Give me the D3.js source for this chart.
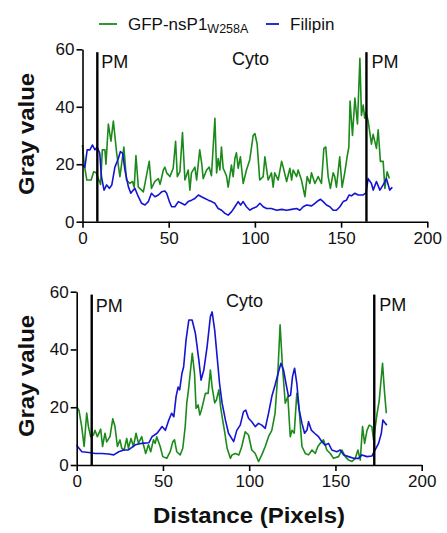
<!DOCTYPE html>
<html><head><meta charset="utf-8">
<script src="https://cdn.jsdelivr.net/npm/d3@7/dist/d3.min.js"></script>
<style>
html,body{margin:0;padding:0;background:#fff;}
svg{display:block;font-family:"Liberation Sans",Arial,sans-serif;}
</style></head>
<body><svg id="c" width="447" height="533"></svg>
<script>
// ---------- data ----------
const xTicks = [0, 50, 100, 150, 200];
const yTicks = [0, 20, 40, 60];
const seriesNames = ["GFP-nsP1", "Filipin"];
const seriesSub = ["W258A", ""];
const regionLabels = ["PM", "Cyto", "PM"];

// top panel: GFP-nsP1 W258A (green)
const topGreenX = [0,1,2.5,5,6.5,8,9.2,10.5,11.5,13,13.6,15,16.5,17.9,19.8,21.7,24,25.5,27.5,29,30,31,32.4,34.3,35.3,38.7,40,42,44,45,46.9,47.8,48.8,50.7,52.6,54,55,56.5,58,59.4,61.3,62.3,63.2,65.2,66.2,68,69.2,70,72,73.5,74.8,76.8,77.8,78.7,79.7,80.6,81.6,83.5,84.5,86.4,87.4,88.4,89.3,90.3,91.6,93.2,95.1,97,99,100,101.3,102.8,104.8,105.8,107.7,109.6,110.6,111.5,113.5,115.5,116.4,118.4,120.3,121.3,122.2,124.2,125.1,127,129,130.3,131.9,132.8,134.8,136.7,138.6,140,141.1,142.5,143.8,145.4,146.3,147.3,149.2,150.6,152.1,153.5,154.5,155.2,156.6,158,159.5,160.9,161.8,162.8,163.7,164.5,165.7,167.6,168.6,170.5,171.5,172.8,174.4,175.4,176.7,178];
const topGreenY = [26.7,20,14.5,14.5,17.4,17,15,13,25,25,20,34,28,35,24,15.7,26,14.5,13.3,14,12,23,12,11,10.4,21,11.6,14,15,13,18,19,17,15.7,18.6,28,15.7,17.4,31,14.5,18,11,17,19,14.5,25,20,15,18,19,16,36,17,22,18,26,18.6,16,12,19.7,15.7,22,24,18.6,22.6,13.3,18,21.5,30,30.7,27,14.5,15.7,22.6,14.5,17,12,17,14.5,21,19,14,18.6,14.5,18,15.7,18,14.5,8.7,15.7,13.3,17,13.3,15.7,13.3,25.5,26,15.7,11.6,17,15.7,12,22.6,12,17,22.6,26,42,30,43,34,56.9,37,40.6,36,38,35,27,30.4,25.5,32,21,21,11.6,17.4,15];
// top panel: Filipin (blue)
const topBlueX = [0,1.4,2.7,4.3,5.8,7.2,8.5,10,11,12.5,14,15.6,17,18.8,20.8,22,23.3,24.6,26.6,28,29.5,30.4,32.4,34.3,36.2,38.2,40,42,44,45.9,47.8,48.8,50.4,51.7,53.6,55.6,57.5,59.4,61.3,63.3,65.2,67.2,69,71,73,74.9,76.8,78.7,80.7,82.6,84.5,86.5,88.4,90.3,91.7,93.2,95.1,97.1,98.6,101,102.9,104.8,106.8,109.6,112.6,115.5,118.4,121.3,124.2,126.1,128,130,132.9,134.8,136.7,138.1,139.6,141.5,143.5,145.4,147.3,149.3,151.2,153.1,154.7,156,158,159.9,162.8,164.4,165.7,167.6,168.6,170.5,172.5,174.4,176.3,178.2,179.7];
const topBlueY = [19.7,19,25,25,26.7,25,26,23.8,15.7,11,12.8,11.6,12.8,19,22,24.4,23.8,18,12.2,9.9,11,11.6,8.7,6.4,5.8,7,9.9,8.7,9.3,10.4,10.7,9.9,7,5.2,5.2,7,6.4,5.8,7,7.5,8.1,9.3,8.7,8.1,7.5,7,6.4,4.6,4,2.9,2.3,3.5,5.2,7,5.8,7,5.2,4,4.6,5.2,6.4,5.2,4.6,4.6,4,4.3,4,4.3,4.6,4,5.2,5.8,5.5,6.4,7.3,7.8,7,5.8,5.2,4,4,5.2,7,7.5,9.3,9,9.9,9.3,9.3,10,15,13.3,11,14,11,12.8,15,11,12];

// bottom panel: GFP-nsP1 W258A (green)
const botGreenX = [0,1.3,2.9,4.3,5.8,6.8,8.1,9.7,10.6,12,13.9,15,16.4,17.4,19.3,20.9,22.2,23.6,25.1,26.1,27.5,29,30,31.5,32.9,34.4,35.8,37.7,38.7,40,41.6,42.9,44.5,45.5,46.4,48.4,49.9,52.2,54.2,55.7,56.7,58,60,61.5,62.9,63.8,64.8,67,68.3,69.2,70.4,71.4,72.3,73.7,74.6,76.2,77.5,78.5,80,81,82.4,83.4,84.3,85.9,87.2,89.1,90,92,94,95.7,97.7,99.6,101.5,103.5,105.4,107.3,109.3,111.2,113.1,115,116.6,117.9,119.3,120.9,122.4,123.8,124.8,126.1,127.6,129,130.6,132.5,134.4,136.4,138.3,139.8,141.2,143.1,145,147,148.9,151.8,153.7,155.7,157.6,159.6,161.5,163,164.4,165.7,166.9,168.3,169.6,171.1,172.1,174,175.4,177.3,178.5,179.5];
const botGreenY = [20.2,19,13.3,6.4,18,13.3,9.8,10.4,12,9.8,12.4,6.4,11,8,9.8,16,13.3,6.4,8.7,5.8,5.2,9.2,5.8,9.2,6.4,11,7.5,9.8,7,4,7,4.6,8.7,7.5,9.8,6.4,2.9,2.3,4.6,8,8.7,4.6,3.5,5.8,13.3,21.4,26,38.7,31.7,19.6,20.8,17.3,19,22.5,24.8,24.8,32.9,27,21.5,22.5,26,20.2,16.7,11,5.8,2.3,3.5,4,3.5,6.4,11.5,10.4,5.2,4,1.2,3.5,6.4,9.8,12,17.9,31.7,48.5,34,21.4,23.7,9.8,12,11,24.8,19,6.4,4,3.5,5.2,4,6.4,7.5,8.7,5.2,4,2.3,2.9,5.2,2.9,1.7,1.2,2.3,5.2,1.7,13.3,7.5,12,13.8,13.3,8.7,17.3,22.5,35.2,24.8,17.9];
// bottom panel: Filipin (blue)
const botBlueX = [0,0.5,3,7,10.8,14.7,18.5,21.5,24.4,27.3,30,34,37.9,41.8,43.7,46.6,49.5,51.4,53.4,55,56.3,57.6,58.8,59.7,61,62,63.4,65,66.9,68.8,70.8,72.1,73.7,75.6,77.5,78.5,80,81.4,82.8,84.3,86.2,88,91,92.8,94.8,96.7,98,99.6,101.5,103.5,105.4,107.3,109.3,111.2,113.1,115,117,118.4,119.9,121.3,122.8,124,125.1,126.3,127.6,129,130.6,132.1,133.5,134.4,136,137.9,140.2,142.1,144.1,146,147.9,150.8,152.8,154.7,157.6,160.5,163.4,165.3,168.3,171.1,173,175,176.6,177.5,178.9,179.8];
const botBlueY = [7,6.4,4.6,4.3,4,4,3.8,3.5,4.6,5.2,5.2,7,7.5,7.7,9.8,11,13.3,12,15.6,17.9,16.7,23.7,27,26,31.7,34,43.3,50.2,50.2,45.6,36.4,29.4,32.9,41,51.4,53,46.7,37.5,28.3,21.4,15.6,11,8.1,12,13.8,18.5,19,16.2,15,13.3,14.4,13.8,12.7,17.9,23.7,27.7,32.3,35.2,32.9,28.3,23.7,24.2,30.6,33.5,28.3,19,14.4,11,12.1,15,12.1,11,9.8,8.1,6.9,7.5,5.2,4.6,5.2,3.5,2.9,2.3,2.3,3.5,2.9,3.1,5.2,7.5,11,15.6,14.4,13.8];

// PM boundary positions (distance) and their top value
const topPM = [8.6, 164.7];
const botPM = [8.7, 172.5];
const pmTop = 59;

// ---------- drawing ----------
const GREEN = "#1b8a1b", BLUE = "#1414d2";
const svg = d3.select("#c");
const FONT = '"Liberation Sans", Arial, sans-serif';

function zip(xs, ys){ return xs.map((x,i)=>[x, ys[i]]); }

function panel(cfg){
  const x = d3.scaleLinear().domain([0,200]).range(cfg.xr);
  const y = d3.scaleLinear().domain([0,60]).range(cfg.yr);
  const g = svg.append("g");

  const line = d3.line().x(d=>x(d[0])).y(d=>y(d[1]));
  g.append("path").datum(zip(cfg.gx,cfg.gy)).attr("d",line)
    .attr("fill","none").attr("stroke",GREEN).attr("stroke-width",1.6).attr("stroke-linejoin","round");
  g.append("path").datum(zip(cfg.bx,cfg.by)).attr("d",line)
    .attr("fill","none").attr("stroke",BLUE).attr("stroke-width",1.6).attr("stroke-linejoin","round");

  // PM lines
  g.selectAll("line.pm").data(cfg.pm).enter().append("line")
    .attr("x1",d=>x(d)).attr("x2",d=>x(d)).attr("y1",y(0)).attr("y2",y(pmTop))
    .attr("stroke","#000").attr("stroke-width",2.4);

  const xa = g.append("g").attr("transform",`translate(0,${y(0)})`)
    .call(d3.axisBottom(x).tickValues(xTicks).tickSize(6).tickSizeOuter(0).tickPadding(4));
  const ya = g.append("g").attr("transform",`translate(${x(0)},0)`)
    .call(d3.axisLeft(y).tickValues(yTicks).tickSize(6).tickSizeOuter(0).tickPadding(2));
  [xa,ya].forEach(a=>{
    a.selectAll("path,line").attr("stroke","#000").attr("stroke-width",1.6);
    a.selectAll("text").attr("font-family",FONT).attr("font-size",17).attr("fill","#111");
  });

  // region labels
  g.append("text").attr("x",x(cfg.pm[0])+4).attr("y",cfg.pmLabY).text(regionLabels[0])
    .attr("font-family",FONT).attr("font-size",18).attr("fill","#111");
  g.append("text").attr("x",cfg.cytoX).attr("y",cfg.cytoY).text(regionLabels[1])
    .attr("font-family",FONT).attr("font-size",18).attr("fill","#111");
  g.append("text").attr("x",x(cfg.pm[1])+5).attr("y",cfg.pmLabY2).text(regionLabels[2])
    .attr("font-family",FONT).attr("font-size",18).attr("fill","#111");

  // y title
  g.append("text").attr("transform",`translate(${cfg.yTitleX},${cfg.yTitleY}) rotate(-90)`)
    .attr("text-anchor","middle").attr("font-family",FONT).attr("font-weight","bold")
    .attr("font-size",22).attr("textLength",122).attr("lengthAdjust","spacingAndGlyphs")
    .attr("fill","#111").text("Gray value");
}

panel({xr:[82.5,427.3], yr:[221.7,49.3], gx:topGreenX, gy:topGreenY, bx:topBlueX, by:topBlueY,
  pm:topPM, pmLabY:68, pmLabY2:68, cytoX:232, cytoY:65, yTitleX:34, yTitleY:134});
panel({xr:[76.7,421.7], yr:[465,291.7], gx:botGreenX, gy:botGreenY, bx:botBlueX, by:botBlueY,
  pm:botPM, pmLabY:312, pmLabY2:311, cytoX:226, cytoY:307, yTitleX:34, yTitleY:376});

// x title
svg.append("text").attr("x",249).attr("y",523).attr("text-anchor","middle")
  .attr("font-family",FONT).attr("font-weight","bold").attr("font-size",22)
  .attr("textLength",192).attr("lengthAdjust","spacingAndGlyphs").attr("fill","#111")
  .text("Distance (Pixels)");

// legend
const leg = svg.append("g");
leg.append("line").attr("x1",99).attr("x2",117).attr("y1",24).attr("y2",24).attr("stroke",GREEN).attr("stroke-width",1.8);
const t1 = leg.append("text").attr("x",128).attr("y",29.5).attr("font-family",FONT).attr("font-size",17).attr("fill","#111");
t1.append("tspan").text(seriesNames[0]);
t1.append("tspan").attr("font-size",12.5).attr("dy",3).text(seriesSub[0]);
leg.append("line").attr("x1",266).attr("x2",279).attr("y1",24).attr("y2",24).attr("stroke",BLUE).attr("stroke-width",1.8);
leg.append("text").attr("x",290).attr("y",29.5).attr("font-family",FONT).attr("font-size",17).attr("fill","#111").text(seriesNames[1]);
</script>
</body></html>
